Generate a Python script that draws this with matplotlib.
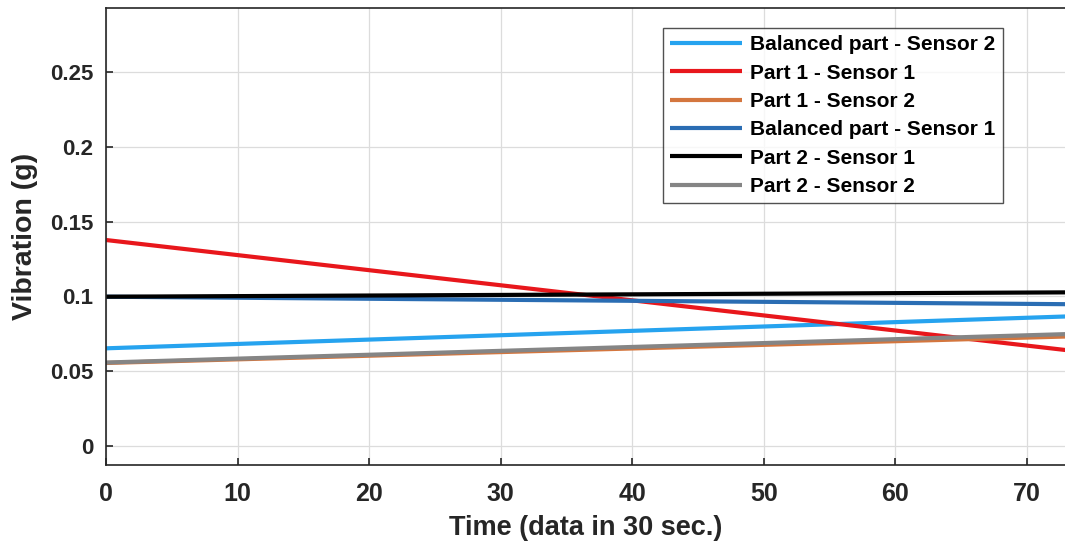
import matplotlib
matplotlib.use("Agg")
import matplotlib.pyplot as plt

# time axis endpoints (data in 30 sec.)
time_pts = [0, 73]

# vibration readings (g) at the start / end of the window
bal_s2 = [0.0653, 0.0866]
part1_s1 = [0.1377, 0.0641]
part1_s2 = [0.0555, 0.0732]
bal_s1 = [0.0998, 0.0948]
part2_s1 = [0.0998, 0.1027]
part2_s2 = [0.0558, 0.0748]

labels = ["Balanced part - Sensor 2", "Part 1 - Sensor 1", "Part 1 - Sensor 2",
          "Balanced part - Sensor 1", "Part 2 - Sensor 1", "Part 2 - Sensor 2"]
colors = ["#26a3ef", "#e8171c", "#d4763e", "#2a6db3", "#000000", "#858585"]

x_ticks = [0, 10, 20, 30, 40, 50, 60, 70]
y_ticks = [0, 0.05, 0.1, 0.15, 0.2, 0.25]
y_tick_labels = ["0", "0.05", "0.1", "0.15", "0.2", "0.25"]

plt.rcParams['font.family'] = ['Liberation Sans', 'DejaVu Sans']
plt.rcParams['font.weight'] = 'bold'

fig = plt.figure(figsize=(10.65, 5.45), dpi=100)
ax = fig.add_axes([106 / 1065, 1 - 465 / 545, 1 - 106 / 1065, 457 / 545])

series = [bal_s2, part1_s1, part1_s2, bal_s1, part2_s1, part2_s2]
# black drawn last so it sits on top of the dark blue
order = [0, 1, 2, 3, 5, 4]
handles = {}
for i in order:
    h, = ax.plot(time_pts, series[i], color=colors[i], linewidth=3.0,
                 label=labels[i], solid_capstyle='butt')
    handles[i] = h

ax.set_xlim(0, 72.9)
ax.set_ylim(-0.0127, 0.2928)
ax.set_xticks(x_ticks)
ax.set_yticks(y_ticks)
ax.set_yticklabels(y_tick_labels)
ax.grid(True, color="#dcdcdc", linewidth=0.9)
ax.set_axisbelow(True)
ax.tick_params(direction='in', length=5, width=1.2, colors="#262626")
ax.tick_params(axis='x', labelsize=18, pad=12)
ax.tick_params(axis='y', labelsize=16, pad=9)
for s in ['left', 'bottom', 'top']:
    ax.spines[s].set_color("#262626")
    ax.spines[s].set_linewidth(1.2)
ax.spines['right'].set_visible(False)

ax.set_xlabel("Time (data in 30 sec.)", fontsize=19.5, fontweight='bold',
              color="#262626", labelpad=7)
ax.set_ylabel("Vibration (g)", fontsize=20.5, fontweight='bold', color="#262626",
              labelpad=9)

leg = ax.legend([handles[i] for i in range(6)], labels, loc='upper left',
                bbox_to_anchor=(557 / 959, 1 - 20 / 457),
                prop={'weight': 'bold', 'size': 15}, frameon=True,
                fancybox=False, handlelength=3.45, handletextpad=0.38,
                labelspacing=0.45, borderpad=0.35, borderaxespad=0)
leg.get_frame().set_edgecolor("#262626")
leg.get_frame().set_linewidth(1.0)

fig.savefig("out.png", dpi=100)
